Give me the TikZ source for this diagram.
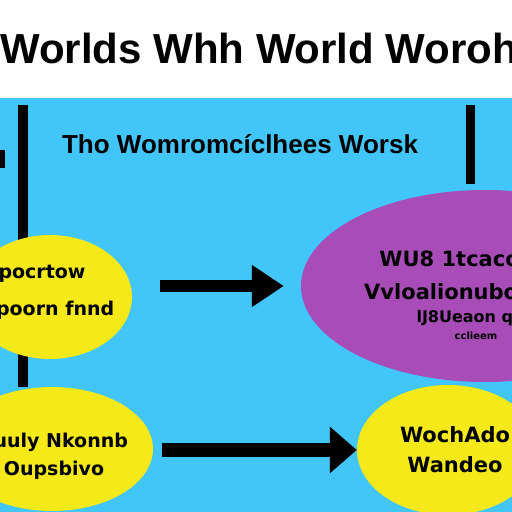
\documentclass[tikz,border=0pt]{standalone}
\usepackage{fontspec}
\setmainfont{Liberation Sans}
\newfontfamily\bubblefont{DejaVu Sans}
\usepackage{tikz}
\usetikzlibrary{arrows.meta,backgrounds,shapes.geometric}
\definecolor{skyblue}{RGB}{66,197,248}
\definecolor{lemon}{RGB}{245,233,26}
\definecolor{orchidfill}{RGB}{168,76,184}
\tikzset{
  bubble/.style={ellipse, inner sep=-40pt},
  yellowbubble/.style={bubble, fill=lemon},
  bubbletext/.style={inner sep=0pt, align=center},
  bigarrow/.style={line width=12pt, -{Triangle[length=32pt,width=40pt]}},
  rail/.style={line width=10pt},
}

\begin{document}
\begin{tikzpicture}[x=1pt,y=-1pt]
\useasboundingbox (0,0) rectangle (512,512);
\clip (0,0) rectangle (512,512);
\node[anchor=base west, inner sep=0pt, font=\fontsize{42}{42}\selectfont\bfseries] (title) at (0,63) {Worlds Whh World Worohc};
\node[anchor=base, inner sep=0pt, font=\fontsize{26}{26}\selectfont\bfseries] (subtitle) at (240,153) {Tho Womromcíclhees Worsk};
\node[yellowbubble, minimum width=164pt, minimum height=124pt] (pocrtow) at (50,297) {};
\node[bubble, fill=orchidfill, minimum width=368pt, minimum height=192pt] (wu) at (485,286) {};
\node[yellowbubble, minimum width=202pt, minimum height=124pt] (uuly) at (52,449) {};
\node[yellowbubble, minimum width=182pt, minimum height=130pt] (wochado) at (448,450) {};
\node[bubbletext, font=\bubblefont\fontsize{19}{37}\selectfont\bfseries] (pocrtowtext) at (42,292) {pocrtow\\kdpoorn fnnd};
\node[bubbletext, font=\bubblefont\fontsize{21}{33}\selectfont\bfseries] (wutext) at (462,275)
  {WU8 1tcacoor\\Vvloalionuboecd};
\node[bubbletext, font=\bubblefont\fontsize{16}{17}\selectfont\bfseries] (wusmall) at (476,325)
  {lJ8Ueaon quil\\{\fontsize{10}{12}\selectfont cclieem}};
\node[bubbletext, font=\bubblefont\fontsize{19}{28}\selectfont\bfseries] (uulytext) at (54,456) {uuuly Nkonnb\\Oupsbivo};
\node[bubbletext, font=\bubblefont\fontsize{21}{30}\selectfont\bfseries] (wochadotext) at (455,450) {WochAdo\\Wandeo};
\coordinate (railL) at (23,105);
\coordinate (railR) at (470,105);
\begin{scope}[on background layer]
\fill[white] (0,0) rectangle (512,98);
\fill[skyblue] (0,98) rectangle (512,512);
\draw[rail] (railL) -- (railL |- uuly.north);
\draw[rail, line width=9pt, shorten >=6pt] (railR) -- (railR |- wu.north);
\end{scope}
\fill (0,150) rectangle (5,168);
\draw[bigarrow, shorten <=28pt, shorten >=17pt] (pocrtow.east |- wu.west) -- (wu.west);
\draw[bigarrow, line width=14pt, -{Triangle[length=27pt,width=45pt]}, shorten <=9pt] (uuly.east |- wochado.west) -- (wochado.west);
\end{tikzpicture}
\end{document}
